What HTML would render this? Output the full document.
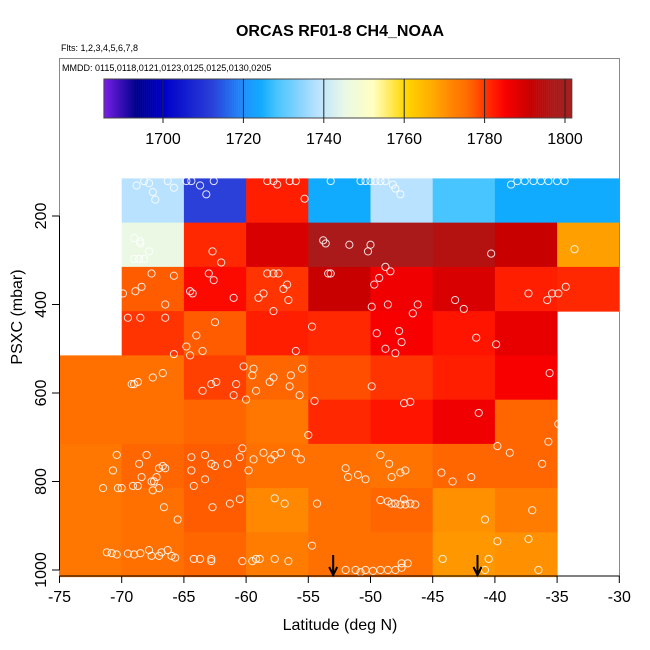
<!DOCTYPE html>
<html><head><meta charset="utf-8">
<style>
html,body{margin:0;padding:0;background:#fff;}
svg{display:block;font-family:"Liberation Sans",sans-serif;}
</style></head>
<body>
<svg id="chart" width="650" height="650" viewBox="0 0 650 650" xmlns="http://www.w3.org/2000/svg">
<text x="340" y="36" text-anchor="middle" font-size="16" font-weight="bold">ORCAS RF01-8 CH4_NOAA</text>
<text x="61" y="51" font-size="9">Flts: 1,2,3,4,5,6,7,8</text>
<g id="cells"></g>
<g id="pts"></g>
<g id="arrows"></g>
<rect x="59.5" y="58.5" width="560" height="517.5" fill="none" stroke="#888" stroke-width="1"/>
<text x="62" y="71" font-size="9">MMDD: 0115,0118,0121,0123,0125,0125,0130,0205</text>
<g id="cbar"></g>
<g id="axes"></g>
<text x="340" y="630" text-anchor="middle" font-size="16">Latitude (deg N)</text>
<text transform="translate(22,317) rotate(-90)" text-anchor="middle" font-size="16">PSXC (mbar)</text>
</svg>
<script>
// ---- data ----
const rowCenters = [165,265,365,465,565,665,765,865,965];
const rowStartLat = [-70,-70,-70,-70,-75,-75,-75,-75,-75];
const cellValues = [
 [1738,1712,1782,1724,1738,1728,1724,1724],
 [1745,1781,1789,1797,1797,1795,1791,1768],
 [1777,1784,1780,1791,1786,1789,1782,1781],
 [1780,1777,1782,1781,1785,1783,1787],
 [1775,1775,1779,1776,1778,1780,1782,1785],
 [1775,1775,1776,1774,1781,1783,1786,1776],
 [1774,1776,1777,1775,1775,1774.5,1776,1776],
 [1774,1775,1777,1771,1775,1776,1770,1773],
 [1774,1775,1776,1773,1775,1775,1769,1770]
];
const ptLat = [-68.8,-68.2,-67.8,-67.5,-67.3,-66.3,-65.8,-64.8,-64.4,-63.7,-63.2,-62.6,-58.3,-57.8,-57.5,-56.5,-56.0,-55.3,-53.2,-50.8,-50.4,-50.0,-49.6,-49.2,-48.8,-48.2,-48.0,-47.6,-38.7,-38.2,-37.6,-36.9,-36.3,-35.7,-35.0,-34.4,
 -69,-68.5,-68.5,-67.8,-69,-68.6,-68.2,-62.7,-62,-53.8,-53.6,-51.7,-50,-50.2,-40.3,-33.6,
 -69.9,-68.9,-68.4,-67.6,-66.5,-65.8,-64.5,-64.3,-63,-62.6,-61,-59,-58.6,-58.3,-57.8,-57.4,-57,-56.7,-56.6,-57.8,-53.4,-53.2,-49.7,-49.3,-48.8,-48.4,-49.9,-48.6,-46.6,-46.2,-43.2,-42.5,-37.3,-35.8,-35.4,-34.9,-34.3,
 -69.5,-68.5,-66.5,-64.8,-64,-63.5,-62.5,-54.7,-49.5,-47.7,-47.5,-48,-48.8,-41.5,-39.9,
 -69.2,-69.0,-68.7,-67.5,-66.7,-65.8,-64.5,-62.8,-62.4,-59.5,-59.4,-60.2,-60.8,-58.1,-57.8,-56.4,-56.5,-55.5,-56,-54.5,-49.9,-47.3,-46.8,-41.3,-35.6,-63.5,-61,-60,-59.2,-55.7,
 -70.4,-70.7,-69.1,-70.3,-71.5,-70.0,-68.6,-68,-67,-66.7,-68.4,-67.6,-67.4,-66.5,-64.4,-64.2,-63.3,-62.8,-62.5,-61.5,-64.4,-63.3,-60.5,-60.3,-59.4,-59.8,-58.6,-58,-57.7,-57.2,-56,-55.6,-55,-52,-51.8,-51,-50.4,-49.2,-48.5,-48.3,-47.6,-47.2,-43.4,-41.9,-44.3,-39.8,-38.8,-36.2,-35.7,-34.9,
 -61.3,-56.9,-57.7,-54.3,-48.3,-48,-47.6,-47.2,-46.8,-46.4,-47.3,-66.6,-62.7,-67,-67.5,-67.2,-68.7,-65.5,-60.5,-40.8,-37,-49.2,-48.6,
 -71.2,-70.8,-70.4,-69.5,-69,-68.5,-67.8,-67.6,-67,-66.8,-66.3,-66,-65.7,-64.2,-63.7,-62.8,-59.5,-59.2,-58.9,-57.7,-56.6,-54.7,-62.8,-60.3,-52,-51.2,-50.8,-50.4,-49.8,-49.2,-48.6,-48,-47.5,-47.5,-47,-44.2,-40.5,-39.8,-37.3,-40.8,-36.5];
const ptPres = [131,121,126,146,163,121,136,121,121,131,151,121,121,121,129,121,121,161,121,121,121,121,121,121,121,129,138,151,129,121,121,121,121,121,121,121,
 250,257,262,280,297,297,297,280,305,255,262,265,265,280,285,275,
 375,370,360,330,400,335,370,375,330,345,385,385,375,330,330,330,365,355,390,415,330,330,355,340,315,325,405,400,420,400,390,410,375,390,375,375,360,
 430,430,430,495,470,505,440,450,465,460,485,510,500,475,490,
 580,580,575,565,555,512,515,580,575,560,545,540,580,575,565,560,585,545,505,618,585,623,620,645,555,595,605,615,595,605,
 740,775,810,815,815,815,760,740,770,765,790,800,800,770,775,810,795,760,765,760,745,740,745,725,750,775,735,750,740,735,735,750,695,770,790,785,795,740,760,790,780,775,800,790,780,720,735,760,710,670,
 850,850,838,850,850,850,852,852,850,852,840,858,858,815,820,790,810,886,840,886,865,842,845,
 960,962,965,963,965,962,955,968,968,960,955,968,972,975,975,975,980,975,975,975,980,945,980,980,1000,1000,1005,1000,1002,1000,1000,1000,995,985,985,975,975,935,930,1000,1000];
const arrowLat = [-53, -41.4];
const cbarTicks = [1700,1720,1740,1760,1780,1800];
const xTicks = [-75,-70,-65,-60,-55,-50,-45,-40,-35,-30];
const yTicks = [200,400,600,800,1000];

// ---- scales ----
const xS = lat => 59.5 + (lat + 75) * 12.44;
const yS = p => 216 + (p - 200) * 0.4425;
const cS = v => 163 + (v - 1700) * 4.02;
const cMin = 1685.3, cMax = 1801.7;
const stops = [[1685,'#7b1fe8'],[1693,'#00008b'],[1700,'#0000c8'],[1712,'#2b40d8'],[1720,'#1e90ff'],[1724,'#10aaff'],[1728,'#48c4ff'],[1734,'#8cd4ff'],[1738,'#b8e2ff'],[1745,'#eaf8e4'],[1752,'#ffffc0'],[1760,'#ffd700'],[1766,'#ffb000'],[1769,'#ff9800'],[1771,'#ff8800'],[1773,'#ff7c00'],[1775,'#ff7000'],[1777,'#ff5c00'],[1779,'#ff4000'],[1781,'#ff2800'],[1783,'#ff1400'],[1785,'#f80000'],[1788,'#e00000'],[1791,'#c80000'],[1797,'#aa1a1a'],[1802,'#a52020']];
function hex(h){return [1,3,5].map(i=>parseInt(h.substr(i,2),16));}
function color(v){
  if(v<=stops[0][0]) return stops[0][1];
  for(let i=1;i<stops.length;i++){
    if(v<=stops[i][0]){
      const a=hex(stops[i-1][1]), b=hex(stops[i][1]);
      const t=(v-stops[i-1][0])/(stops[i][0]-stops[i-1][0]);
      return 'rgb('+a.map((c,k)=>Math.round(c+(b[k]-c)*t)).join(',')+')';
    }
  }
  return stops[stops.length-1][1];
}
const NS='http://www.w3.org/2000/svg';
function mk(tag, attrs, parent){const e=document.createElementNS(NS,tag);for(const k in attrs)e.setAttribute(k,attrs[k]);parent.appendChild(e);return e;}

// heatmap
const cells=document.getElementById('cells');
cellValues.forEach((row,r)=>{
  row.forEach((v,c)=>{
    const l0=rowStartLat[r]+c*5;
    const x0=xS(l0), x1=xS(l0+5);
    const y0=yS(rowCenters[r]-50), y1=yS(rowCenters[r]+50);
    const e=mk('rect',{x:x0,y:y0,width:x1-x0+0.5,height:y1-y0+0.5,fill:color(v)},cells);
    
    
  });
});
// points
const pts=document.getElementById('pts');
ptLat.forEach((la,i)=>{
  const e=mk('circle',{cx:xS(la),cy:yS(ptPres[i]),r:3.6,fill:'none',stroke:'#fff','stroke-width':1,opacity:0.85},pts);
  
  
});
// arrows
const arr=document.getElementById('arrows');
arrowLat.forEach(la=>{
  const x=xS(la);
  const g=mk('g',{},arr);
  
  
  mk('line',{x1:x,y1:555,x2:x,y2:575,stroke:'#000','stroke-width':2},g);
  mk('path',{d:`M${x-4},${567} L${x},${575} L${x+4},${567}`,fill:'none',stroke:'#000','stroke-width':2},g);
});
// colorbar
const cb=document.getElementById('cbar');
for(let v=cMin; v<cMax; v+=0.5){
  mk('rect',{x:cS(v),y:79,width:Math.min(2.3,cS(cMax)-cS(v)),height:39,fill:color(v)},cb);
}
mk('rect',{x:cS(cMin),y:79,width:cS(cMax)-cS(cMin),height:39,fill:'none',stroke:'#444','stroke-width':1},cb);
cbarTicks.forEach(t=>{
  const x=cS(t);
  mk('line',{x1:x,y1:79,x2:x,y2:123,stroke:'#222','stroke-width':1},cb);
  const tx=mk('text',{x:x,y:144,'text-anchor':'middle','font-size':16},cb);
  tx.textContent=t;
  
  
});
// axes
const ax=document.getElementById('axes');
mk('line',{x1:59.5,y1:576,x2:619.5,y2:576,stroke:'#000','stroke-width':1},ax);
mk('line',{x1:59.5,y1:yS(200),x2:59.5,y2:yS(1000),stroke:'#000','stroke-width':1},ax);
xTicks.forEach(t=>{
  const x=xS(t);
  mk('line',{x1:x,y1:576,x2:x,y2:583,stroke:'#000','stroke-width':1},ax);
  const tx=mk('text',{x:x,y:602,'text-anchor':'middle','font-size':16},ax);
  tx.textContent=t;
  
  
});
yTicks.forEach(t=>{
  const y=yS(t);
  mk('line',{x1:52,y1:y,x2:59.5,y2:y,stroke:'#000','stroke-width':1},ax);
  const tx=mk('text',{x:0,y:0,'text-anchor':'middle','font-size':16,transform:`translate(46,${y}) rotate(-90)`},ax);
  tx.textContent=t;
  
  
});
</script>
</body></html>
